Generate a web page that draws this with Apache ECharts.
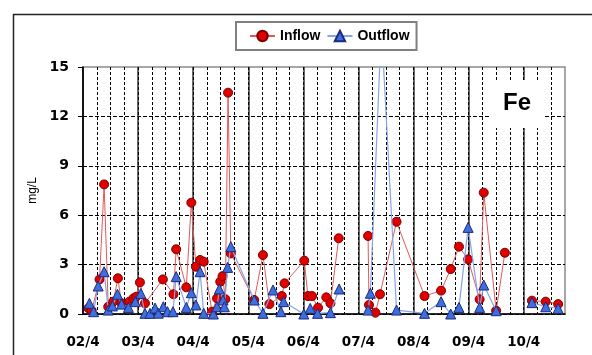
<!DOCTYPE html>
<html>
<head>
<meta charset="utf-8">
<script src="https://cdn.jsdelivr.net/npm/echarts@6/dist/echarts.min.js"></script>
<style>html,body{margin:0;padding:0;background:#fff;}#c{width:592px;height:355px;}</style>
</head>
<body>
<div id="c"></div>
<script>
// x = months since April 2002
var tickLabels = ['02/4','03/4','04/4','05/4','06/4','07/4','08/4','09/4','10/4'];
var inflowMonths = [1.2,1.9,3.6,4.6,5.5,6.6,7.6,8.4,10.1,11.0,11.6,12.4,13.5,17.4,19.7,20.3,22.5,23.6,24.6,25.5,26.3,28.1,29.2,29.9,30.4,31.0,31.6,32.2,37.3,39.2,40.6,43.3,43.9,48.2,49.0,49.9,51.2,53.0,53.9,55.7,59.0,62.1,62.3,63.7,64.7,68.3,74.4,78.0,80.1,81.9,83.9,86.4,87.3,90.0,91.9,95.0,97.8,100.8,103.5];
var inflowValues = [0.35,0.2,2.1,7.87,0.44,0.75,2.17,0.65,0.75,0.95,1.05,1.92,0.65,2.1,1.2,3.93,1.62,6.76,2.87,3.28,3.18,0.14,0.95,1.96,2.3,0.9,13.44,3.68,0.85,3.58,0.6,1.09,1.86,3.24,1.09,1.09,0.38,1.01,0.65,4.6,null,4.74,0.55,0.08,1.2,5.6,1.09,1.42,2.73,4.09,3.32,0.89,7.37,0.2,3.72,null,0.81,0.75,0.6];
var outflowMonths = [1.4,2.3,3.3,4.6,5.5,6.4,7.5,8.4,9.9,11.4,12.6,13.5,14.6,15.7,16.4,17.5,18.4,19.6,20.3,22.5,23.6,24.6,25.5,26.3,28.4,29.2,29.7,30.5,30.8,31.5,32.2,37.3,39.2,41.4,43.1,43.7,48.1,49.5,51.1,53.9,55.8,59.0,62.1,62.6,65.0,68.3,74.4,78.0,80.1,81.9,83.9,86.4,87.3,90.0,95.0,97.8,100.8,103.5];
var outflowValues = [0.65,0.14,1.7,2.57,0.24,0.49,1.2,0.6,0.4,0.75,1.25,0.04,0.04,0.36,0.05,0.44,0.14,0.14,2.27,0.4,1.29,0.55,2.57,0.04,0.0,0.44,1.52,0.85,0.44,2.83,4.09,0.85,0.04,1.46,0.14,0.75,0.0,0.34,0.04,0.08,1.52,null,0.24,1.26,17.5,0.24,0.04,0.75,0.0,0.4,5.26,0.4,1.76,0.2,null,0.69,0.44,0.34];

function zip(xs, ys) {
  return xs.map(function (x, i) { return [x, ys[i] == null ? '-' : ys[i]]; });
}

var chart = echarts.init(document.getElementById('c'), null, {renderer: 'canvas'});
chart.setOption({
  animation: false,
  backgroundColor: '#fff',
  grid: {left: 83, right: 27, top: 67, bottom: 41, show: true, borderColor: '#8a8a8a', borderWidth: 1.5, backgroundColor: 'transparent'},
  legend: {
    left: 236, top: 22,
    padding: [7, 7, 7, 13],
    itemWidth: 25, itemHeight: 13, itemGap: 6,
    borderColor: '#808080', borderWidth: 2, backgroundColor: '#fff',
    textStyle: {fontFamily: 'Liberation Sans', fontWeight: 'bold', fontSize: 14, color: '#000'},
    data: ['Inflow', 'Outflow']
  },
  xAxis: [{
    type: 'value', min: 0, max: 105, interval: 12,
    axisLine: {show: true, onZero: false, lineStyle: {color: '#000', width: 1.5}},
    axisTick: {show: false},
    axisLabel: {
      margin: 21, fontFamily: 'DejaVu Sans', fontWeight: 'bold', fontSize: 13.5, color: '#000',
      formatter: function (v) { return (v % 12 === 0) ? (tickLabels[v / 12] || '') : ''; }
    },
    splitLine: {show: true, showMaxLine: false, lineStyle: {color: '#333', width: 1.5, type: 'solid'}}
  }, {
    type: 'value', min: 0, max: 105, interval: 3, position: 'bottom',
    axisLine: {show: false}, axisTick: {show: false}, axisLabel: {show: false},
    splitLine: {show: true, showMinLine: false, showMaxLine: false, lineStyle: {color: '#000', width: 1, type: [3, 2]}}
  }],
  yAxis: {
    type: 'value', min: 0, max: 15, interval: 3,
    name: 'mg/L', nameLocation: 'middle', nameGap: 42,
    nameTextStyle: {fontFamily: 'Liberation Sans', fontSize: 12, color: '#000'},
    axisLine: {show: true, lineStyle: {color: '#000', width: 1.5}},
    axisTick: {show: true, length: 5, lineStyle: {color: '#000'}},
    axisLabel: {margin: 14, fontFamily: 'DejaVu Sans', fontWeight: 'bold', fontSize: 14, color: '#000'},
    splitLine: {show: true, showMaxLine: false, lineStyle: {color: '#000', width: 1, type: [4, 2]}}
  },
  graphic: [
    {type: 'rect', left: 11, top: 12, shape: {width: 700, height: 500}, style: {fill: 'none', stroke: '#222', lineWidth: 1.5}, z: 0, silent: true},
    {type: 'rect', left: 490, top: 80, shape: {width: 55, height: 48}, style: {fill: '#fff'}, z: 1},
    {type: 'text', left: 503, top: 91, style: {text: 'Fe', fontFamily: 'Liberation Sans', fontWeight: 'bold', fontSize: 24, fill: '#000'}, z: 2}
  ],
  series: [{
    name: 'Inflow', type: 'line', xAxisIndex: 0, data: zip(inflowMonths, inflowValues),
    symbol: 'circle', symbolSize: 9, connectNulls: false,
    lineStyle: {color: '#e05a5a', width: 1},
    itemStyle: {color: '#e00000', borderColor: '#7a0000', borderWidth: 1},
    z: 3
  }, {
    name: 'Outflow', type: 'line', xAxisIndex: 0, data: zip(outflowMonths, outflowValues),
    symbol: 'triangle', symbolSize: 10, connectNulls: false,
    lineStyle: {color: '#86a4e6', width: 1.2},
    itemStyle: {color: '#3e6fdc', borderColor: '#1c2a80', borderWidth: 1},
    z: 4
  }]
});
</script>
</body>
</html>
